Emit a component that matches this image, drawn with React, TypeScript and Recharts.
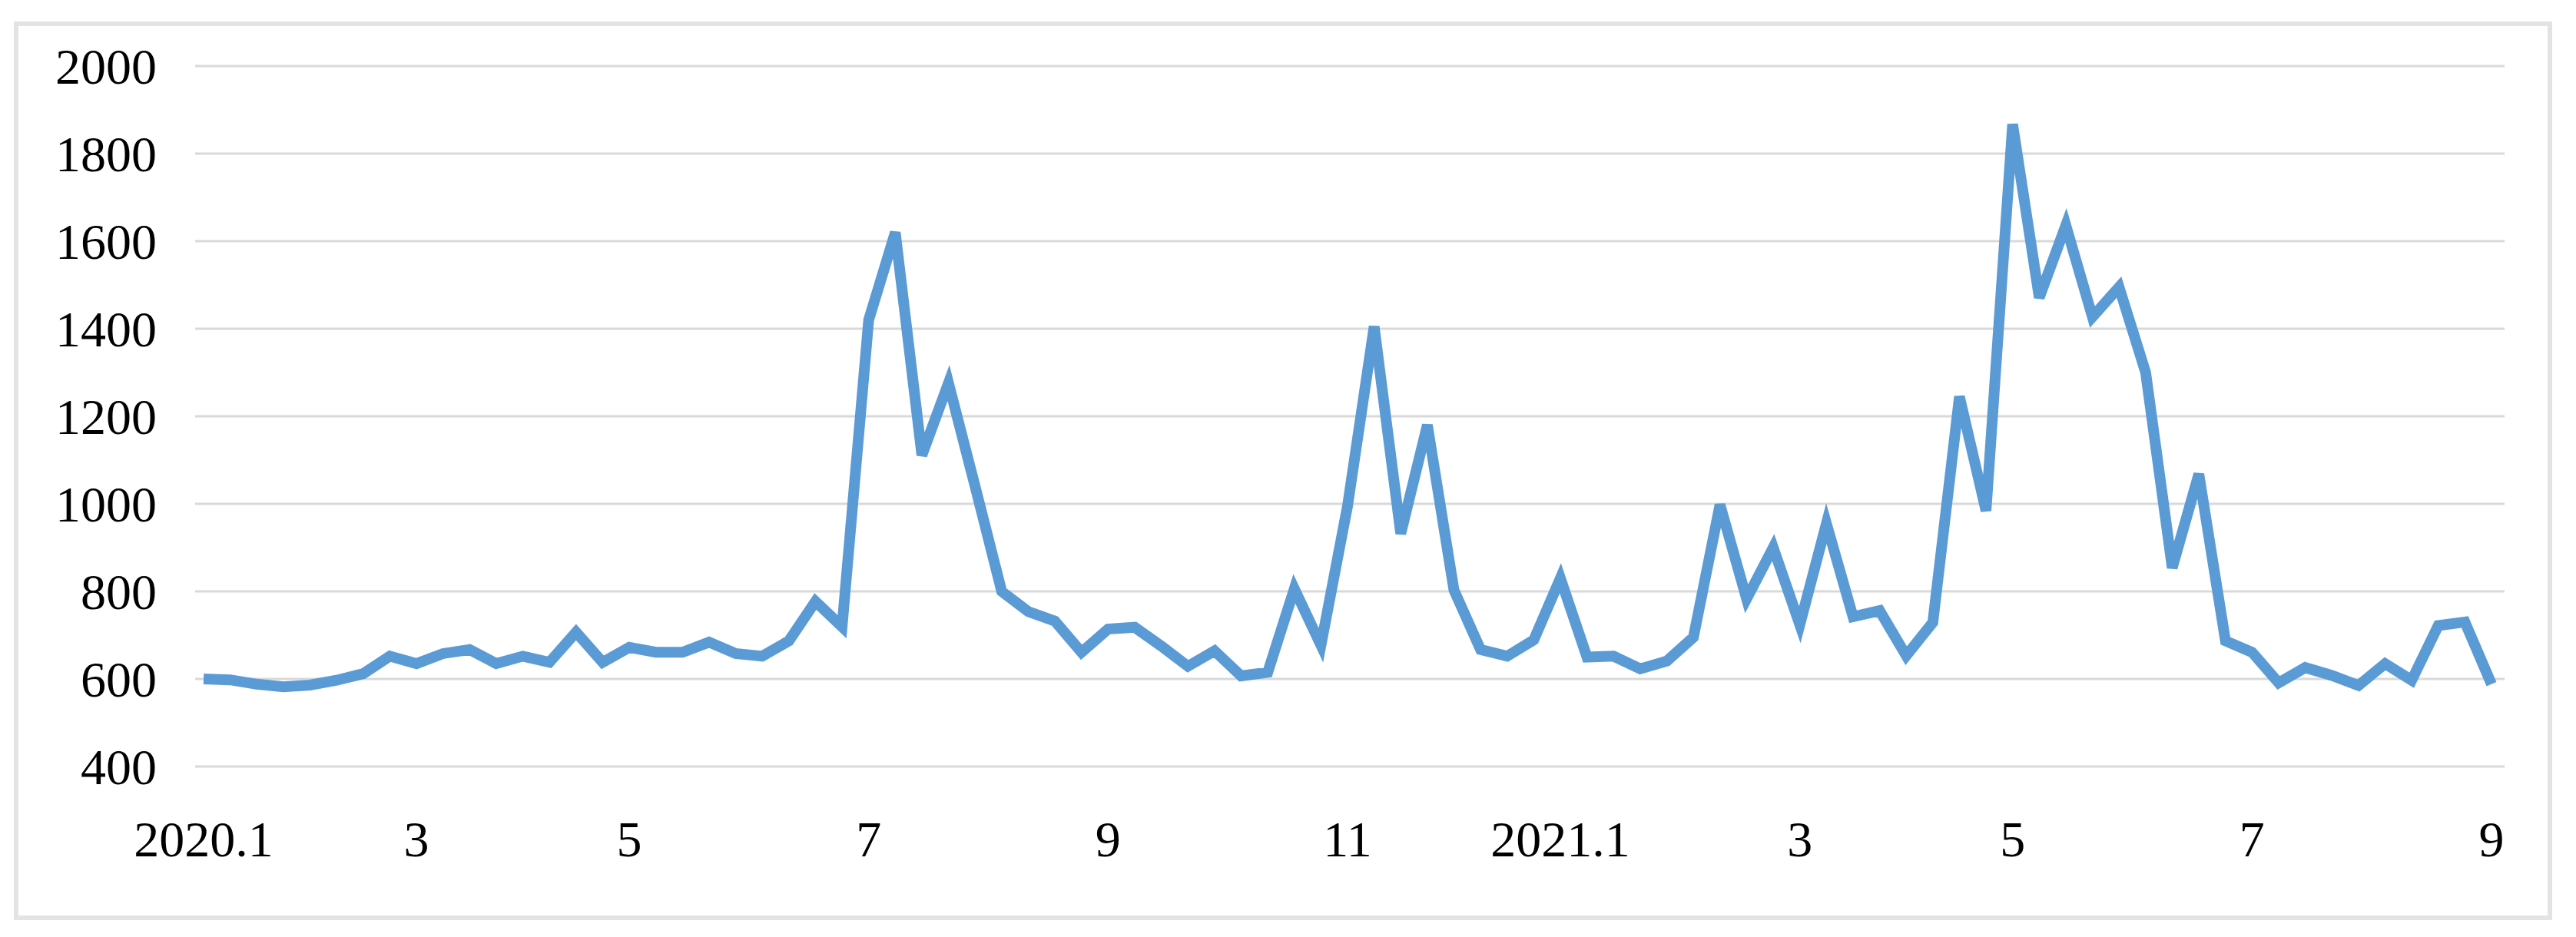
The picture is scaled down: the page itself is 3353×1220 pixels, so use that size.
import { LineChart, Line, XAxis, YAxis, CartesianGrid } from "recharts";

// weekly values, 2020.1 to 2021.9
const values = [
  600, 598, 588, 582, 586, 597, 612, 652, 635, 658,
  667, 635, 652, 638, 707, 638, 672, 661, 661, 684,
  658, 652, 687, 777, 719, 1420, 1620, 1111, 1276, 1040,
  800, 754, 732, 661, 714, 718, 675, 629, 664, 607,
  615, 806, 677, 995, 1405, 932, 1180, 803, 667, 652,
  689, 830, 650, 652, 623, 641, 695, 998, 783, 900,
  724, 955, 742, 756, 653, 729, 1245, 984, 1867, 1471,
  1636, 1427, 1495, 1300, 854, 1068, 687, 661, 591, 626,
  608, 585, 635, 597, 722, 730, 588,
];

const xTickPositions = [0, 8, 16, 25, 34, 43, 51, 60, 68, 77, 86];
const xTickLabels = ["2020.1", "3", "5", "7", "9", "11", "2021.1", "3", "5", "7", "9"];
const yTicks = [400, 600, 800, 1000, 1200, 1400, 1600, 1800, 2000];

const data = values.map((v, i) => ({ week: i, value: v }));

const fontFamily = '"Liberation Serif", "Times New Roman", serif';

export default function App() {
  return (
    <div
      style={{
        position: "absolute",
        left: 0,
        top: 0,
        width: 3353,
        height: 1220,
        background: "#fff",
      }}
    >
      {/* outer frame */}
      <div
        style={{
          position: "absolute",
          left: 18,
          top: 28,
          width: 3304,
          height: 1170,
          border: "6px solid #e3e3e3",
          boxSizing: "border-box",
        }}
      />
      <div style={{ position: "absolute", left: 0, top: 0 }}>
        <LineChart
          width={3353}
          height={1220}
          data={data}
          margin={{ top: 86, right: 93, bottom: 72, left: 54 }}
        >
          <CartesianGrid
            vertical={false}
            stroke="#d9d9d9"
            strokeWidth={3}
          />
          <XAxis
            dataKey="week"
            type="number"
            domain={[0, 86]}
            ticks={xTickPositions}
            tickFormatter={(v: number) => xTickLabels[xTickPositions.indexOf(v)] ?? ""}
            interval={0}
            padding={{ left: 11, right: 17 }}
            axisLine={false}
            tickLine={false}
            tickSize={0}
            tickMargin={70}
            height={150}
            tick={{ fill: "#000", fontSize: 66, fontFamily }}
          />
          <YAxis
            type="number"
            domain={[400, 2000]}
            ticks={yTicks}
            interval={0}
            axisLine={false}
            tickLine={false}
            tickSize={0}
            tickMargin={50}
            width={200}
            tick={{ fill: "#000", fontSize: 66, fontFamily }}
          />
          <Line
            type="linear"
            dataKey="value"
            stroke="#5b9bd5"
            strokeWidth={14}
            dot={false}
            activeDot={false}
            isAnimationActive={false}
          />
        </LineChart>
      </div>
    </div>
  );
}
